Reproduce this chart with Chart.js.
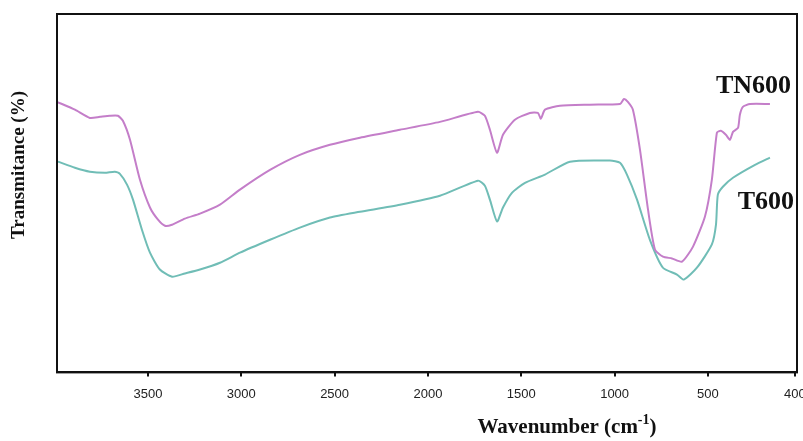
<!DOCTYPE html>
<html>
<head>
<meta charset="utf-8">
<script src="https://cdn.jsdelivr.net/npm/chart.js@4"></script>
<style>
  html, body { margin: 0; padding: 0; background: #fff; }
  #wrap { width: 803px; height: 441px; }
</style>
</head>
<body>
<div id="wrap"><canvas id="ftir"></canvas></div>
<script>
// FTIR spectra, wavenumber (cm-1) vs transmittance (arbitrary units)
const tn600Wave = [3987, 3891, 3811, 3757, 3704, 3661, 3634, 3596, 3543, 3489, 3446, 3409, 3371, 3302, 3221, 3114, 3007, 2846, 2686, 2525, 2364, 2150, 1936, 1732, 1695, 1668, 1630, 1598, 1534, 1454, 1411, 1395, 1373, 1293, 1132, 971, 950, 929, 902, 864, 821, 784, 741, 693, 639, 580, 516, 479, 452, 431, 404, 382, 366, 339, 329, 313, 275, 168];
const tn600Trans = [75.5, 73.3, 71.0, 71.3, 71.6, 71.6, 70.2, 64.9, 53.8, 46.0, 42.6, 40.9, 41.2, 42.9, 44.3, 46.8, 51.0, 56.5, 60.7, 63.5, 65.5, 67.7, 69.9, 72.7, 71.6, 67.7, 61.3, 66.3, 70.5, 72.4, 72.4, 70.8, 73.3, 74.4, 74.7, 74.9, 76.3, 75.5, 73.3, 62.1, 45.4, 34.3, 32.3, 31.8, 30.9, 35.1, 43.5, 53.8, 66.9, 67.4, 66.3, 64.9, 67.1, 68.2, 71.9, 74.1, 74.9, 74.9];

const t600Wave = [3982, 3891, 3811, 3730, 3677, 3650, 3612, 3580, 3532, 3489, 3436, 3371, 3302, 3221, 3114, 3007, 2846, 2686, 2525, 2364, 2150, 1936, 1732, 1695, 1668, 1630, 1598, 1550, 1480, 1373, 1239, 1025, 971, 934, 880, 811, 741, 666, 629, 559, 479, 457, 447, 420, 366, 248, 168];
const t600Trans = [58.8, 57.1, 56.0, 55.7, 56.0, 55.4, 52.4, 48.2, 39.8, 33.4, 28.7, 26.7, 27.6, 28.7, 30.6, 33.4, 37.0, 40.4, 43.2, 44.8, 46.8, 49.3, 53.5, 52.1, 48.2, 42.1, 46.0, 50.1, 52.9, 55.2, 58.8, 59.1, 58.5, 55.2, 48.2, 37.0, 29.2, 27.3, 25.9, 29.2, 35.7, 41.2, 49.6, 51.8, 54.3, 57.9, 59.9];

// x ticks as printed on the figure (the last one is labelled 400)
const tickValues = [3500, 3000, 2500, 2000, 1500, 1000, 500, 34];
const tickLabels = ['3500', '3000', '2500', '2000', '1500', '1000', '500', '400'];

const seriesNames = ['TN600', 'T600'];

function toPoints(xs, ys) {
  return xs.map((x, i) => ({ x: x, y: ys[i] }));
}

// frame + text labels drawn on top
const decorations = {
  id: 'decorations',
  afterDraw(chart) {
    const { ctx, chartArea } = chart;
    const { left, right, top, bottom } = chartArea;
    ctx.save();
    ctx.strokeStyle = '#111';
    ctx.lineWidth = 2;
    ctx.strokeRect(left, top, right - left, bottom - top);

    ctx.fillStyle = '#111';
    ctx.font = 'bold 26px "Liberation Serif", serif';
    ctx.textAlign = 'right';
    ctx.textBaseline = 'middle';
    ctx.fillText(seriesNames[0], 791, 86);
    ctx.fillText(seriesNames[1], 794, 202);

    // y title
    ctx.save();
    ctx.translate(19, 165);
    ctx.rotate(-Math.PI / 2);
    ctx.textAlign = 'center';
    ctx.font = 'bold 19px "Liberation Serif", serif';
    ctx.fillText('Transmitance (%)', 0, 0);
    ctx.restore();

    // x title with superscript
    ctx.textBaseline = 'alphabetic';
    ctx.textAlign = 'left';
    const big = 'bold 21px "Liberation Serif", serif';
    const small = 'bold 14px "Liberation Serif", serif';
    const a = 'Wavenumber (cm';
    const sup = '-1';
    const b = ')';
    ctx.font = big;
    const wa = ctx.measureText(a).width;
    const wb = ctx.measureText(b).width;
    ctx.font = small;
    const ws = ctx.measureText(sup).width;
    const x0 = 567 - (wa + ws + wb) / 2;
    const yb = 433;
    ctx.font = big;
    ctx.fillText(a, x0, yb);
    ctx.font = small;
    ctx.fillText(sup, x0 + wa, yb - 9);
    ctx.font = big;
    ctx.fillText(b, x0 + wa + ws, yb);
    ctx.restore();
  }
};

const chart = new Chart(document.getElementById('ftir'), {
  type: 'line',
  data: {
    datasets: [{
      label: seriesNames[0],
      data: toPoints(tn600Wave, tn600Trans),
      borderColor: '#c47ec9',
      borderWidth: 2,
      pointRadius: 0,
      tension: 0.2,
      fill: false
    }, {
      label: seriesNames[1],
      data: toPoints(t600Wave, t600Trans),
      borderColor: '#70bdb6',
      borderWidth: 2,
      pointRadius: 0,
      tension: 0.2,
      fill: false
    }]
  },
  options: {
    responsive: true,
    maintainAspectRatio: false,
    animation: false,
    layout: { padding: { left: 57, top: 14, right: 6, bottom: 29 } },
    plugins: {
      legend: { display: false },
      tooltip: { enabled: false }
    },
    scales: {
      x: {
        type: 'linear',
        reverse: true,
        min: 23,
        max: 3987,
        afterBuildTicks(scale) {
          scale.ticks = tickValues.map(v => ({ value: v }));
        },
        afterFit(scale) {
          scale.paddingLeft = 0;
          scale.paddingRight = 0;
        },
        ticks: {
          autoSkip: false,
          maxRotation: 0,
          padding: 10,
          color: '#222',
          font: { family: '"Liberation Sans", sans-serif', size: 13 },
          callback: (v, i) => tickLabels[i]
        },
        grid: { drawOnChartArea: false, drawTicks: true, tickLength: 4, color: '#111', lineWidth: 2 },
        border: { display: true, color: '#111', width: 2 }
      },
      y: {
        display: false,
        min: 0,
        max: 100
      }
    }
  },
  plugins: [decorations]
});
</script>
</body>
</html>
